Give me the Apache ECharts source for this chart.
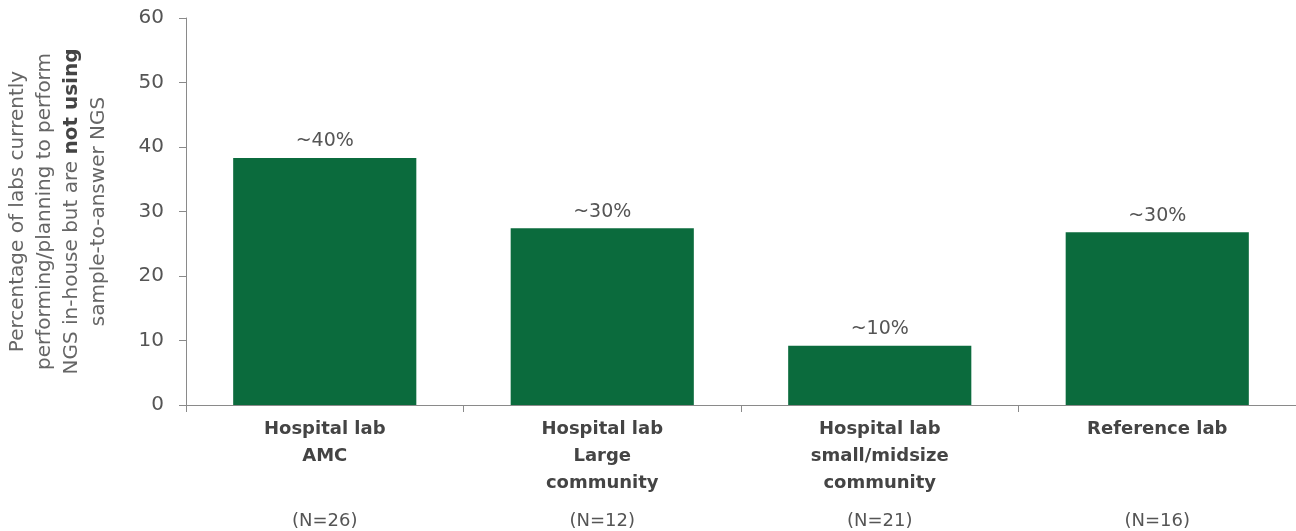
<!DOCTYPE html>
<html><head><meta charset="utf-8">
<script src="https://cdn.jsdelivr.net/npm/echarts@6/dist/echarts.min.js"></script>
<style>html,body{margin:0;padding:0;background:#fff}#c{width:1296px;height:531px}</style>
</head><body><div id="c"></div>
<script>
var categories = ['Hospital lab\nAMC', 'Hospital lab\nLarge\ncommunity', 'Hospital lab\nsmall/midsize\ncommunity', 'Reference lab'];
var sampleSizes = ['(N=26)', '(N=12)', '(N=21)', '(N=16)'];
var values = [38.3, 27.4, 9.2, 26.8];
var valueLabels = ['~40%', '~30%', '~10%', '~30%'];
var yTicks = [0, 10, 20, 30, 40, 50, 60];

var FONT = 'DejaVu Sans';
var chart = echarts.init(document.getElementById('c'));
chart.setOption({
  animation: false,
  grid: {left: 186, right: 0, top: 18, bottom: 126, containLabel: false, outerBoundsMode: 'none'},
  xAxis: {
    type: 'category',
    data: categories,
    axisLine: {lineStyle: {color: '#8a8a8a', width: 1}},
    axisTick: {show: true, length: 7, lineStyle: {color: '#8a8a8a'}},
    axisLabel: {
      margin: 11,
      interval: 0,
      formatter: function (v, i) {
        var lines = v.split('\n');
        while (lines.length < 3) lines.push(' ');
        return lines.map(function (l) { return '{b|' + l + '}'; }).join('\n') + '\n{n|' + sampleSizes[i] + '}';
      },
      rich: {
        b: {fontFamily: FONT, fontSize: 18, fontWeight: 'bold', color: '#444', lineHeight: 27, align: 'center'},
        n: {fontFamily: FONT, fontSize: 18, color: '#555', lineHeight: 49, align: 'center'}
      }
    }
  },
  yAxis: {
    type: 'value',
    min: yTicks[0], max: yTicks[yTicks.length - 1], interval: 10,
    splitLine: {show: false},
    axisLine: {show: true, lineStyle: {color: '#8a8a8a', width: 1}},
    axisTick: {show: true, length: 7, lineStyle: {color: '#8a8a8a'}},
    axisLabel: {fontFamily: FONT, fontSize: 20, color: '#555', margin: 22},
    name: '{r|Percentage of labs currently}\n{r|performing/planning to perform}\n{r|NGS in-house but are }{b|not using}\n{r|sample-to-answer NGS}',
    nameLocation: 'middle',
    nameRotate: 90,
    nameGap: 74,
    nameTextStyle: {
      rich: {
        r: {fontFamily: FONT, fontSize: 20, color: '#666', lineHeight: 27},
        b: {fontFamily: FONT, fontSize: 20, color: '#444', fontWeight: 'bold', lineHeight: 27}
      }
    }
  },
  series: [{
    type: 'bar',
    data: values,
    barWidth: '66%',
    itemStyle: {color: '#0b6b3d'},
    label: {
      show: true, position: 'top', distance: 7,
      fontFamily: FONT, fontSize: 19, color: '#555',
      formatter: function (p) { return valueLabels[p.dataIndex]; }
    }
  }]
});
</script></body></html>
